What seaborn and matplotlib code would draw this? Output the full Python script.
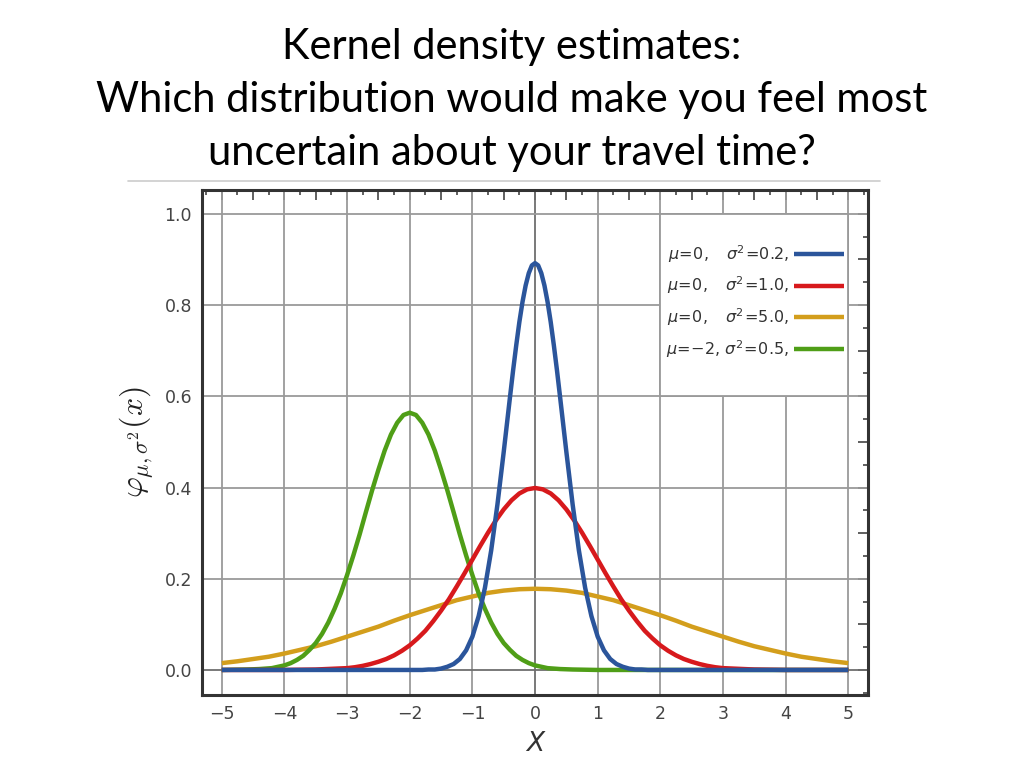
import matplotlib
matplotlib.use("Agg")
import matplotlib.pyplot as plt
import matplotlib.ticker as mticker
from matplotlib.patches import Rectangle
import seaborn as sns
import pandas as pd

blue_x = [-5.0, -1.8, -1.7, -1.6, -1.5, -1.4, -1.3, -1.2, -1.1, -1.0, -0.9, -0.8, -0.7, -0.6,
          -0.5, -0.45, -0.4, -0.35, -0.3, -0.25, -0.2, -0.15, -0.1, -0.05, 0.0,
          0.05, 0.1, 0.15, 0.2, 0.25, 0.3, 0.35, 0.4, 0.45, 0.5,
          0.6, 0.7, 0.8, 0.9, 1.0, 1.1, 1.2, 1.3, 1.4, 1.5, 1.6, 1.7, 1.8, 5.0]
blue_y = [0.000, 0.000, 0.001, 0.001, 0.003, 0.007, 0.013, 0.024, 0.043, 0.073, 0.118, 0.180,
          0.262, 0.363, 0.478, 0.538, 0.598, 0.657, 0.712, 0.763, 0.807, 0.843, 0.870, 0.887,
          0.892,
          0.887, 0.870, 0.843, 0.807, 0.763, 0.712, 0.657, 0.598, 0.538, 0.478,
          0.363, 0.262, 0.180, 0.118, 0.073, 0.043, 0.024, 0.013, 0.007, 0.003, 0.001, 0.001,
          0.000, 0.000]

red_x = [-5.0, -4.0, -3.5, -3.0, -2.875, -2.75, -2.625, -2.5, -2.375, -2.25, -2.125, -2.0,
         -1.875, -1.75, -1.625, -1.5, -1.375, -1.25, -1.125, -1.0, -0.875, -0.75, -0.625,
         -0.5, -0.375, -0.25, -0.125, 0.0, 0.125, 0.25, 0.375, 0.5, 0.625, 0.75, 0.875, 1.0,
         1.125, 1.25, 1.375, 1.5, 1.625, 1.75, 1.875, 2.0, 2.125, 2.25, 2.375, 2.5, 2.625,
         2.75, 2.875, 3.0, 3.5, 4.0, 5.0]
red_y = [0.000, 0.000, 0.001, 0.004, 0.006, 0.009, 0.013, 0.018, 0.024, 0.032, 0.042, 0.054,
         0.069, 0.086, 0.107, 0.130, 0.155, 0.183, 0.212, 0.242, 0.272, 0.301, 0.328,
         0.352, 0.372, 0.387, 0.396, 0.399, 0.396, 0.387, 0.372, 0.352, 0.328, 0.301, 0.272,
         0.242, 0.212, 0.183, 0.155, 0.130, 0.107, 0.086, 0.069, 0.054, 0.042, 0.032, 0.024,
         0.018, 0.013, 0.009, 0.006, 0.004, 0.001, 0.000, 0.000]

orange_x = [-5.0, -4.75, -4.5, -4.25, -4.0, -3.75, -3.5, -3.25, -3.0, -2.75, -2.5, -2.25,
            -2.0, -1.75, -1.5, -1.25, -1.0, -0.75, -0.5, -0.25, 0.0, 0.25, 0.5, 0.75, 1.0,
            1.25, 1.5, 1.75, 2.0, 2.25, 2.5, 2.75, 3.0, 3.25, 3.5, 3.75, 4.0, 4.25, 4.5, 4.75,
            5.0]
orange_y = [0.015, 0.019, 0.024, 0.029, 0.036, 0.044, 0.052, 0.062, 0.073, 0.084, 0.095,
            0.108, 0.120, 0.131, 0.142, 0.153, 0.161, 0.169, 0.174, 0.177, 0.178, 0.177, 0.174,
            0.169, 0.161, 0.153, 0.142, 0.131, 0.120, 0.108, 0.095, 0.084, 0.073, 0.062,
            0.052, 0.044, 0.036, 0.029, 0.024, 0.019, 0.015]

green_x = [-5.0, -4.6, -4.4, -4.3, -4.2, -4.1, -4.0, -3.9, -3.8, -3.7, -3.6, -3.5, -3.4, -3.3,
           -3.2, -3.1, -3.0, -2.9, -2.8, -2.7, -2.6, -2.5, -2.4, -2.3, -2.2, -2.1, -2.0, -1.9,
           -1.8, -1.7, -1.6, -1.5, -1.4, -1.3, -1.2, -1.1, -1.0, -0.9, -0.8, -0.7, -0.6, -0.5,
           -0.4, -0.3, -0.2, -0.1, 0.0, 0.1, 0.2, 0.3, 0.4, 0.6, 1.0, 5.0]
green_y = [0.000, 0.001, 0.002, 0.003, 0.004, 0.007, 0.010, 0.015, 0.022, 0.031, 0.044, 0.059,
           0.079, 0.104, 0.134, 0.168, 0.208, 0.251, 0.297, 0.346, 0.394, 0.439, 0.481, 0.516,
           0.542, 0.559, 0.564, 0.559, 0.542, 0.516, 0.481, 0.439, 0.394, 0.346, 0.297, 0.251,
           0.208, 0.168, 0.134, 0.104, 0.079, 0.059, 0.044, 0.031, 0.022, 0.015, 0.010, 0.007,
           0.004, 0.003, 0.002, 0.001, 0.000, 0.000]

labels = [r'$\mu\!=\!0,\hspace{0.95}\sigma^2\!=\!0.2,$',
          r'$\mu\!=\!0,\hspace{0.95}\sigma^2\!=\!1.0,$',
          r'$\mu\!=\!0,\hspace{0.95}\sigma^2\!=\!5.0,$',
          r'$\mu\!=\!{-}2,\hspace{0.15}\sigma^2\!=\!0.5,$']
colors = ['#2b559b', '#d7191c', '#d39e1c', '#4f9e17']

x_ticks = [-5, -4, -3, -2, -1, 0, 1, 2, 3, 4, 5]
y_ticks = [0.0, 0.2, 0.4, 0.6, 0.8, 1.0]

title = ("Kernel density estimates:\n"
         "Which distribution would make you feel most\n"
         "uncertain about your travel time?")

sns.set_style("white")
plt.rcParams['font.family'] = ['Lato', 'DejaVu Sans']
plt.rcParams['mathtext.fontset'] = 'dejavusans'

fig = plt.figure(figsize=(10.24, 7.68), dpi=100)
ax = fig.add_axes([0.197, 0.095, 0.651, 0.658])

grid_c = '#9a9a9a'
for xt in x_ticks:
    ax.axvline(xt, color='#6e6e6e' if xt == 0 else grid_c, lw=1.3, zorder=1)
for yt in y_ticks:
    ax.axhline(yt, color='#6e6e6e' if yt == 0 else grid_c, lw=1.3, zorder=1)

# white legend panel sitting between the grid lines
ax.add_patch(Rectangle((2, 0.6), 3, 0.4, facecolor='white', edgecolor=grid_c, lw=1.3, zorder=1.5))

series = [(orange_x, orange_y, 2), (green_x, green_y, 3), (red_x, red_y, 1), (blue_x, blue_y, 0)]
for xs, ys, i in series:
    df = pd.DataFrame({'x': xs, 'y': ys})
    sns.lineplot(data=df, x='x', y='y', color=colors[i], lw=3.2, sort=False, ax=ax,
                 label=labels[i], zorder=3, solid_joinstyle='round', solid_capstyle='butt')

handles, labs = ax.get_legend_handles_labels()
order = [labs.index(l) for l in labels]
leg = ax.legend([handles[k] for k in order], [labs[k] for k in order], loc='upper right',
                bbox_to_anchor=(5.03, 0.95), bbox_transform=ax.transData, frameon=False,
                markerfirst=False, fontsize=11.5, handlelength=3.1, handletextpad=0.35,
                labelspacing=0.62, borderaxespad=0)
for t in leg.get_texts():
    t.set_color('#333333')

ax.set_xlim(-5.32, 5.32)
ax.set_ylim(-0.055, 1.053)

ax.xaxis.set_major_locator(mticker.MultipleLocator(0.5))
ax.xaxis.set_minor_locator(mticker.MultipleLocator(0.25))
ax.yaxis.set_major_locator(mticker.MultipleLocator(0.1))
ax.yaxis.set_minor_locator(mticker.MultipleLocator(0.05))
ax.xaxis.set_major_formatter(mticker.FuncFormatter(
    lambda v, p: f"{v:.0f}".replace('-', '\u2212') if abs(v - round(v)) < 1e-6 else ''))
ax.yaxis.set_major_formatter(mticker.FuncFormatter(
    lambda v, p: f"{abs(v):.1f}" if round(v * 10) % 2 == 0 else ''))

ax.tick_params(which='both', direction='in', top=True, right=True, color='#444444', width=1.2,
               labelsize=12.5, labelcolor='#444444')
ax.tick_params(which='major', length=7, pad=7)
ax.tick_params(which='minor', length=3.5)
for lab in ax.get_xticklabels() + ax.get_yticklabels():
    lab.set_family('DejaVu Sans')

for s in ax.spines.values():
    s.set_color('#333333')
    s.set_linewidth(2.2)

ax.set_xlabel('X', fontsize=19, fontstyle='italic', family='DejaVu Sans', color='#333333',
              labelpad=6)
ax.set_ylabel(r'$\varphi_{\mu,\sigma^2}(x)$', fontsize=23, color='#222222', labelpad=6,
              math_fontfamily='cm')

# thin border line at the top of the embedded picture
fig.add_artist(plt.Line2D([128 / 1024, 880 / 1024], [1 - 181 / 768] * 2, color='#cccccc',
                          lw=1.2))

fig.text(0.5, 1 - 100 / 768, title, ha='center', va='center', fontsize=30,
         linespacing=1.5, color='black')

fig.savefig('out.png', dpi=100)
